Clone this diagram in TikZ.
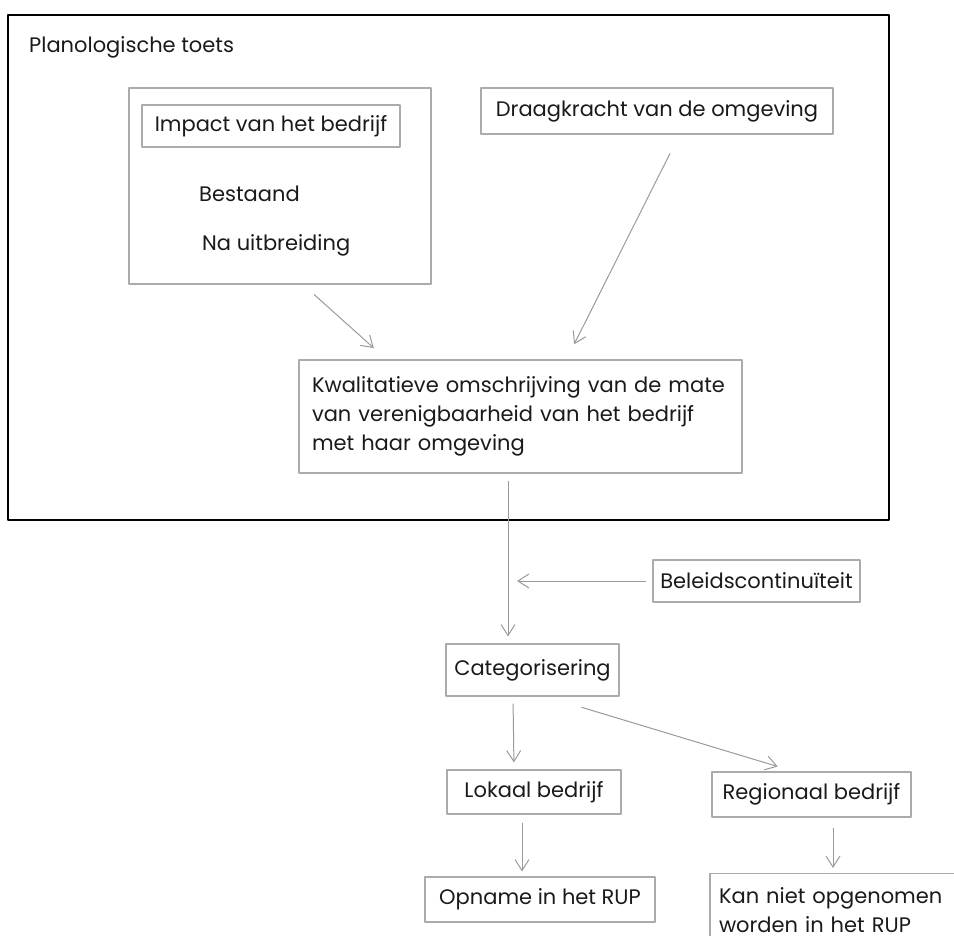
\documentclass[tikz,border=0pt]{standalone}
\usepackage{fontspec}
\setmainfont{Poppins}
\usetikzlibrary{arrows.meta}
\definecolor{boxgray}{HTML}{ABABAB}
\definecolor{ink}{HTML}{1A1A1A}
\begin{document}
\begin{tikzpicture}[x=1pt,y=-1pt,line join=round,
    every node/.style={text=ink,font=\fontsize{21}{29}\selectfont},
    box/.style={draw=boxgray,line width=1.1pt,inner sep=0pt},
    arr/.style={draw=boxgray!90!black,line width=1pt,-{Straight Barb[length=11pt,width=14pt]}}]
  \useasboundingbox (0,0) rectangle (954,936);
  \node[draw=black,line width=2.8pt,minimum width=881,minimum height=505] (toets) at (448.5,267.5) {};
  \node[anchor=west,inner sep=0pt] (title) at (29,47) {Planologische toets};
  \node[box,minimum width=302,minimum height=196] (imp) at (280,186) {};
  \node[box,minimum width=258,minimum height=42] (impact) at (271,126) {Impact van het bedrijf};
  \node[anchor=west,inner sep=0pt] (best) at (199,194) {Bestaand};
  \node[anchor=west,inner sep=0pt] (na) at (202,245) {Na uitbreiding};
  \node[box,minimum width=352,minimum height=46] (draag) at (657,111) {Draagkracht van de omgeving};
  \node[box,minimum width=443,minimum height=113,text width=417,align=left] (kw) at (520.5,416.5)
    {Kwalitatieve omschrijving van de mate\\van verenigbaarheid van het bedrijf\\met haar omgeving};
  \node[box,minimum width=207,minimum height=42] (beleid) at (756.5,581) {Beleidscontinuïteit};
  \node[box,minimum width=173,minimum height=52] (cat) at (532.5,670) {Categorisering};
  \node[box,minimum width=174,minimum height=44] (lok) at (534,792) {Lokaal bedrijf};
  \node[box,minimum width=199,minimum height=45] (reg) at (811.5,794.5) {Regionaal bedrijf};
  \node[box,minimum width=230,minimum height=45] (opn) at (540,899.5) {Opname in het RUP};
  \node[box,minimum width=251,minimum height=73,text width=233,align=left] (kan) at (835.5,910)
    {Kan niet opgenomen\\worden in het RUP};
  \draw[arr,shorten <=15pt,shorten >=17pt] ([xshift=23]imp.south) -- ([xshift=-134]kw.north);
  \draw[arr,shorten <=21pt,shorten >=17pt] ([xshift=22.5]draag.south) -- ([xshift=46]kw.north);
  \coordinate (drop) at ([xshift=-12.5]kw.south);
  \draw[arr,shorten <=7pt,shorten >=7pt] (drop) -- ([xshift=-24.5]cat.north);
  \draw[arr,shorten <=6pt] (beleid.west) -- ([xshift=9]beleid.west -| drop);
  \draw[arr,shorten <=7pt,shorten >=7pt] ([xshift=-19.5]cat.south) -- ([xshift=-20]lok.north);
  \draw[arr,shorten <=37pt,shorten >=17pt] ([xshift=13.5]cat.south) -- ([xshift=-17.5]reg.north);
  \draw[arr,shorten <=8pt,shorten >=5pt] ([xshift=-12]lok.south) -- ([xshift=-18]opn.north);
  \draw[arr,shorten <=10pt,shorten >=5pt] ([xshift=21.5]reg.south) -- ([xshift=-2.5]kan.north);
\end{tikzpicture}
\end{document}
